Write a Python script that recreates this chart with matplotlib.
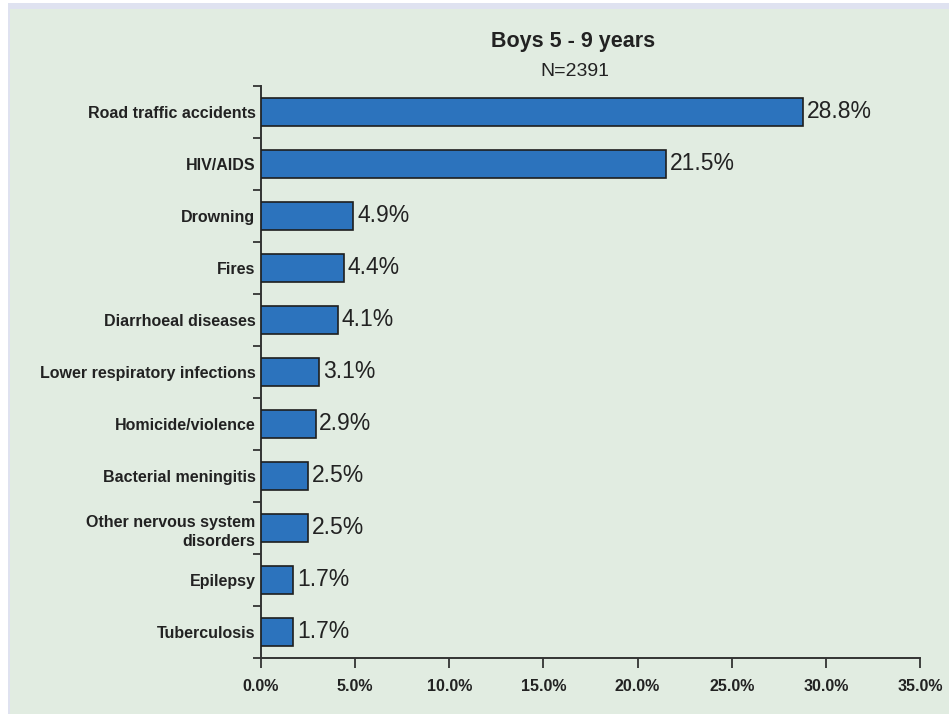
import matplotlib.pyplot as plt
import matplotlib.patches as mpatches
from matplotlib.ticker import FixedLocator, PercentFormatter
import numpy as np

causes = ['Road traffic accidents', 'HIV/AIDS', 'Drowning', 'Fires',
          'Diarrhoeal diseases', 'Lower respiratory infections',
          'Homicide/violence', 'Bacterial meningitis',
          'Other nervous system\ndisorders', 'Epilepsy', 'Tuberculosis']
percent = [28.8, 21.5, 4.9, 4.4, 4.1, 3.1, 2.9, 2.5, 2.5, 1.7, 1.7]
xticks = [0, 5, 10, 15, 20, 25, 30, 35]

plt.rcParams['font.family'] = ['Liberation Sans', 'DejaVu Sans']

W, H = 949, 717
fig = plt.figure(figsize=(W / 100, H / 100), dpi=100)
fig.patch.set_facecolor('white')

# Hintergrundfläche mit schmalem Rand oben/links (hinter den Achsen)
fig.patches.append(mpatches.Rectangle((8 / W, 1 - 9 / H), 1, 6 / H, transform=fig.transFigure,
                                      facecolor='#dfe2f0', edgecolor='none', zorder=-10))
fig.patches.append(mpatches.Rectangle((8 / W, 3 / H), 2 / W, 1 - 12 / H, transform=fig.transFigure,
                                      facecolor='#dfe2f0', edgecolor='none', zorder=-10))
fig.patches.append(mpatches.Rectangle((10 / W, 3 / H), 1, 1 - 12 / H, transform=fig.transFigure,
                                      facecolor='#e1ece1', edgecolor='none', zorder=-10))

ax = fig.add_axes([261 / W, 1 - 658 / H, 659 / W, (658 - 86) / H])
ax.set_facecolor('none')

y = np.arange(len(causes))
ax.barh(y, percent, height=0.54, color='#2c73bd', edgecolor='#1e1e1e', linewidth=1.2, zorder=3)

for yi, v in zip(y, percent):
    ax.text(v + 0.2, yi, f'{v:.1f}%', va='center', ha='left', fontsize=16.5, color='#222222')

ax.set_xlim(0, 35)
ax.set_ylim(len(causes) - 0.5, -0.5)

ax.set_yticks(y)
ax.set_yticklabels(causes, fontsize=11.5, fontweight='bold', color='#222222',
                   linespacing=1.35)
ax.yaxis.set_minor_locator(FixedLocator(np.arange(-0.5, len(causes), 1.0)))
ax.tick_params(axis='y', which='major', length=0, pad=4)
ax.tick_params(axis='y', which='minor', length=6, width=1.3, color='#333333')

ax.set_xticks(xticks)
ax.xaxis.set_major_formatter(PercentFormatter(decimals=1))
ax.tick_params(axis='x', length=7, width=1.3, color='#333333', pad=8,
               labelsize=11.5, labelcolor='#222222')
for lab in ax.get_xticklabels():
    lab.set_fontweight('bold')

for s in ['top', 'right']:
    ax.spines[s].set_visible(False)
for s in ['left', 'bottom']:
    ax.spines[s].set_color('#333333')
    ax.spines[s].set_linewidth(1.4)

fig.text(573 / W, 1 - 42 / H, 'Boys 5 - 9 years', ha='center', va='center',
         fontsize=15.5, fontweight='bold', color='#222222')
fig.text(575 / W, 1 - 72 / H, 'N=2391', ha='center', va='center',
         fontsize=14, color='#222222')

plt.savefig('out.png', dpi=100)
